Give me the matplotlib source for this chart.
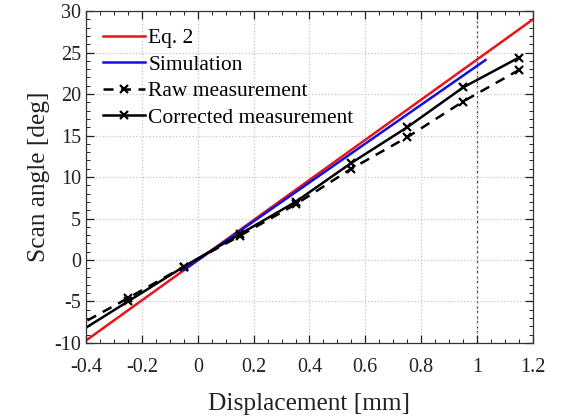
import numpy as np
import matplotlib
matplotlib.use("Agg")
import matplotlib.pyplot as plt
from matplotlib.ticker import MultipleLocator

plt.rcParams['font.family'] = ['Liberation Serif', 'DejaVu Serif']
plt.rcParams['axes.unicode_minus'] = False

# theory and simulation lines
eq2_x = [-0.4, 1.2]
eq2_y = [-9.7, 29.0]
sim_x = [-0.05, 1.03]
sim_y = [-1.2, 24.1]

# measured points (first point sits just left of the axis)
meas_x = [-0.45, -0.25, -0.05, 0.15, 0.35, 0.55, 0.75, 0.95, 1.15]
raw_y = [-8.3, -4.6, -0.8, 2.9, 6.7, 11.0, 14.8, 19.1, 22.9]
corr_y = [-9.2, -5.0, -0.8, 3.1, 7.0, 11.7, 16.0, 20.8, 24.4]

fig = plt.figure(figsize=(5.64, 4.17), dpi=100)
ax = fig.add_axes([0.1525, 0.1775, 0.7925, 0.796])

ax.plot(eq2_x, eq2_y, color='#e8141c', lw=1.8, label='Eq. 2')
ax.plot(sim_x, sim_y, color='#1010e0', lw=1.8, label='Simulation')
ax.plot(meas_x, raw_y, color='black', lw=1.8, ls=(0, (4, 3)), marker='x',
        ms=6, mew=1.6, label='Raw measurement')
ax.plot(meas_x, corr_y, color='black', lw=1.8, marker='x', ms=6, mew=1.6,
        label='Corrected measurement')

ax.set_xlim(-0.4, 1.2)
ax.set_ylim(-10, 30)
ticks = np.arange(-0.4, 1.21, 0.2)
ax.set_xticks(ticks)
ax.set_xticklabels(['%g' % round(t, 1) for t in ticks])
ax.xaxis.set_minor_locator(MultipleLocator(0.05))
ax.yaxis.set_major_locator(MultipleLocator(5))
ax.yaxis.set_minor_locator(MultipleLocator(1))

ax.grid(True, which='major', color='#c4c4c4', ls=':', lw=0.9)
ax.axvline(1.0, color='#333333', ls=(0, (2, 2)), lw=0.9, zorder=0.5)
ax.tick_params(which='both', direction='in', top=True, right=True,
               labelsize=14.5, colors='#222222')
ax.tick_params(which='major', length=6, width=0.9)
ax.tick_params(which='minor', length=3, width=0.7)
ax.tick_params(axis='x', pad=11)
for s in ax.spines.values():
    s.set_linewidth(0.9)
    s.set_color('#333333')

ax.set_xlabel('Displacement [mm]', fontsize=18.3, color='#222222', labelpad=11)
ax.set_ylabel('Scan angle [deg]', fontsize=18.3, color='#222222', labelpad=3)

ax.legend(loc='upper left', frameon=False, fontsize=15.5, handlelength=1.95,
          handletextpad=0.15, labelspacing=0.3, borderaxespad=0.45,
          borderpad=0.35)

fig.savefig('out.png', dpi=100)
